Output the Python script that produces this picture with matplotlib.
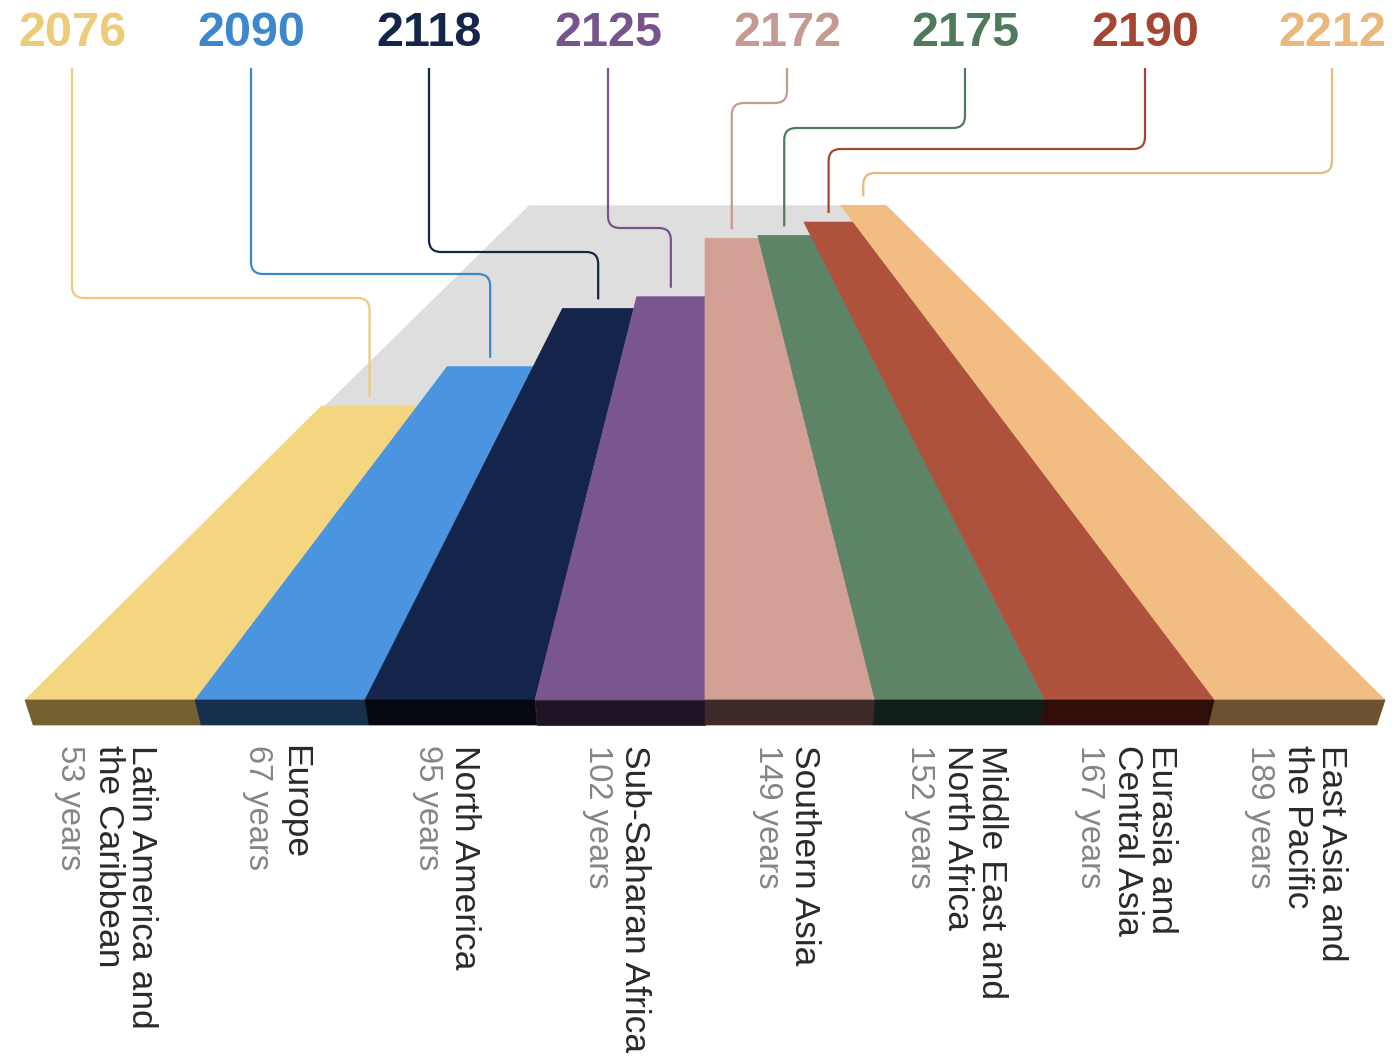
import numpy as np
import matplotlib.pyplot as plt
from matplotlib.path import Path
from matplotlib.patches import PathPatch, Polygon

plt.rcParams['font.family'] = ['Liberation Sans', 'DejaVu Sans']

# data
regions = ["Latin America and\nthe Caribbean", "Europe", "North America",
           "Sub-Saharan Africa", "Southern Asia", "Middle East and\nNorth Africa",
           "Eurasia and\nCentral Asia", "East Asia and\nthe Pacific"]
years_left = [53, 67, 95, 102, 149, 152, 167, 189]
parity_year = [2076, 2090, 2118, 2125, 2172, 2175, 2190, 2212]

# styles
bar_colors = ['#F4D580', '#4A94E0', '#15244A', '#7A5690',
              '#D3A096', '#5E8468', '#AE523D', '#F2BD83']
front_colors = ['#74612F', '#17304E', '#05080F', '#1F1223',
                '#3E2B29', '#111E17', '#2F0E09', '#6B5231']
label_colors = ['#EDCB78', '#3D88CC', '#15264A', '#77558C',
                '#C49A92', '#4F7B5C', '#A54634', '#E8B87C']

# layout (pixels)
label_x = [72, 251, 429, 608, 787, 965, 1145, 1332]
elbow_y = [298, 274, 252, 228, 103, 128, 149, 173]
base_y, front_h = 700, 25
vx, vy = 705, 26          # vanishing point
left, bar_w = 25, 170
depth = 0.0146            # perspective depth per year

def top_y(yrs):
    return vy + (base_y - vy) / (1 + depth * yrs)

def x_at(x0, y):
    return vx + (x0 - vx) * (y - vy) / (base_y - vy)

fig = plt.figure(figsize=(13.98, 10.58), dpi=100)
ax = fig.add_axes([0, 0, 1, 1])
ax.set_xlim(0, 1398)
ax.set_ylim(1058, 0)
ax.axis('off')

# grey floor behind the bars
ymax = top_y(max(years_left))
ax.add_patch(Polygon([(left, base_y), (529, ymax), (x_at(left + 8 * bar_w, ymax), ymax),
                      (left + 8 * bar_w, base_y)], closed=True,
                     facecolor='#DEDEDE', edgecolor='none', zorder=1))

for i, yrs in enumerate(years_left):
    x0 = left + i * bar_w
    x1 = x0 + bar_w
    yt = top_y(yrs)
    ax.add_patch(Polygon([(x0, base_y), (x_at(x0, yt), yt), (x_at(x1, yt), yt), (x1, base_y)],
                         closed=True, facecolor=bar_colors[i], edgecolor=bar_colors[i],
                         lw=0.5, zorder=2))
    # front face
    b0 = vx + (x0 - vx) * 0.988
    b1 = vx + (x1 - vx) * 0.988
    ax.add_patch(Polygon([(x0, base_y), (x1, base_y), (b1, base_y + front_h), (b0, base_y + front_h)],
                         closed=True, facecolor=front_colors[i], edgecolor=front_colors[i],
                         lw=0.5, zorder=2))

    # leader line with rounded corners
    xs, xe = label_x[i], (x_at(x0, yt) + x_at(x1, yt)) / 2
    yh, r = elbow_y[i], 12
    d = np.sign(xe - xs)
    verts = [(xs, 68), (xs, yh - r), (xs, yh), (xs + d * r, yh), (xe - d * r, yh),
             (xe, yh), (xe, yh + r), (xe, yt - 9)]
    codes = [Path.MOVETO, Path.LINETO, Path.CURVE3, Path.CURVE3, Path.LINETO,
             Path.CURVE3, Path.CURVE3, Path.LINETO]
    ax.add_patch(PathPatch(Path(verts, codes), facecolor='none',
                           edgecolor=label_colors[i], lw=1.6, zorder=3))

    ax.text(label_x[i], 34, str(parity_year[i]), color=label_colors[i], fontsize=35,
            fontweight='bold', ha='center', va='center')

    # rotated labels under the bars
    n = regions[i].count('\n') + 1
    c = (x0 + x1) / 2 - 4
    pitch = 37
    ax.text(c + pitch / 2, 745, regions[i], rotation=-90, ha='center', va='top',
            multialignment='left', fontsize=25.5, color='#2A2A2A', linespacing=1.0)
    ax.text(c - n * pitch / 2, 745, f"{yrs} years", rotation=-90, ha='center', va='top',
            fontsize=23.5, color='#858585')

fig.savefig('out.png', dpi=100)
